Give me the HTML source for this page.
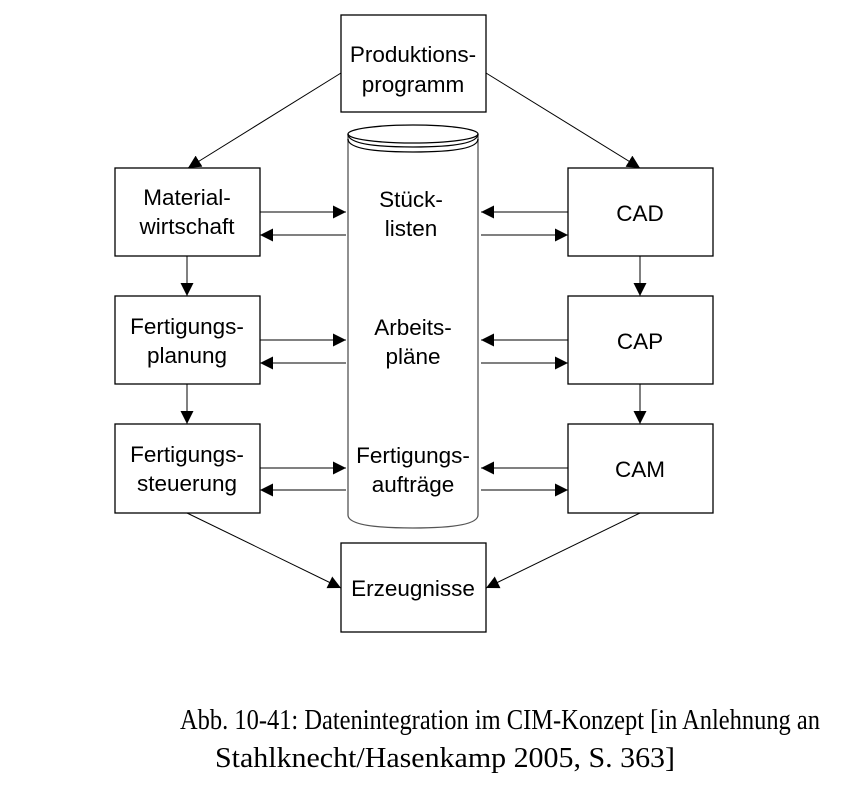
<!DOCTYPE html>
<html><head><meta charset="utf-8"><style>
html,body{margin:0;padding:0;background:#fff;}
svg{display:block;}
text{font-family:"Liberation Sans",sans-serif;font-size:22.5px;fill:#000;}
.cap{font-family:"Liberation Serif",serif;font-size:28px;}
</style></head><body>
<svg width="841" height="801" viewBox="0 0 841 801" xmlns="http://www.w3.org/2000/svg">
<defs>
<marker id="a" viewBox="0 0 10 10" refX="10" refY="5" markerWidth="13" markerHeight="13" markerUnits="userSpaceOnUse" orient="auto"><path d="M0,0 L10,5 L0,10 z" fill="#000"/></marker>
</defs>
<g fill="none" stroke="#000" stroke-width="1.3">
<rect x="341" y="15" width="145" height="97"/>
<rect x="115" y="168" width="145" height="88"/>
<rect x="115" y="296" width="145" height="88"/>
<rect x="115" y="424" width="145" height="89"/>
<rect x="568" y="168" width="145" height="88"/>
<rect x="568" y="296" width="145" height="88"/>
<rect x="568" y="424" width="145" height="89"/>
<rect x="341" y="543" width="145" height="89"/>
<path d="M348,134 L348,515 Q348,528 413,528 Q478,528 478,515 L478,134" stroke="#555"/>
<ellipse cx="413" cy="134" rx="65" ry="9"/>
<path d="M348,134 Q348,147 413,147 Q478,147 478,134" />
<path d="M348,139 Q348,152 413,152 Q478,152 478,139" />
</g>
<g stroke="#000" stroke-width="1" fill="none" marker-end="url(#a)">
<line x1="341" y1="73" x2="188" y2="168"/>
<line x1="486" y1="73" x2="640" y2="168"/>
<line x1="187" y1="513" x2="341" y2="588"/>
<line x1="640" y1="513" x2="486" y2="588"/>
<line x1="187" y1="256" x2="187" y2="296"/>
<line x1="187" y1="384" x2="187" y2="424"/>
<line x1="640" y1="256" x2="640" y2="296"/>
<line x1="640" y1="384" x2="640" y2="424"/>
<line x1="260" y1="212" x2="346" y2="212"/>
<line x1="346" y1="235" x2="260" y2="235"/>
<line x1="568" y1="212" x2="481" y2="212"/>
<line x1="481" y1="235" x2="568" y2="235"/>
<line x1="260" y1="340" x2="346" y2="340"/>
<line x1="346" y1="363" x2="260" y2="363"/>
<line x1="568" y1="340" x2="481" y2="340"/>
<line x1="481" y1="363" x2="568" y2="363"/>
<line x1="260" y1="468" x2="346" y2="468"/>
<line x1="346" y1="490" x2="260" y2="490"/>
<line x1="568" y1="468" x2="481" y2="468"/>
<line x1="481" y1="490" x2="568" y2="490"/>
</g>
<g text-anchor="middle">
<text x="413" y="62">Produktions-</text><text x="413" y="92">programm</text>
<text x="187" y="205">Material-</text><text x="187" y="234">wirtschaft</text>
<text x="187" y="334">Fertigungs-</text><text x="187" y="363">planung</text>
<text x="187" y="462">Fertigungs-</text><text x="187" y="491">steuerung</text>
<text x="640" y="221">CAD</text>
<text x="640" y="349">CAP</text>
<text x="640" y="477">CAM</text>
<text x="413" y="596">Erzeugnisse</text>
<text x="411" y="207">Stück-</text><text x="411" y="236">listen</text>
<text x="413" y="335">Arbeits-</text><text x="413" y="364">pläne</text>
<text x="413" y="463">Fertigungs-</text><text x="413" y="492">aufträge</text>
</g>
<text class="cap" x="180" y="729" textLength="640" lengthAdjust="spacingAndGlyphs">Abb. 10-41: Datenintegration im CIM-Konzept [in Anlehnung an</text>
<text class="cap" x="215" y="767" textLength="460" lengthAdjust="spacingAndGlyphs">Stahlknecht/Hasenkamp 2005, S. 363]</text>
</svg>
</body></html>
